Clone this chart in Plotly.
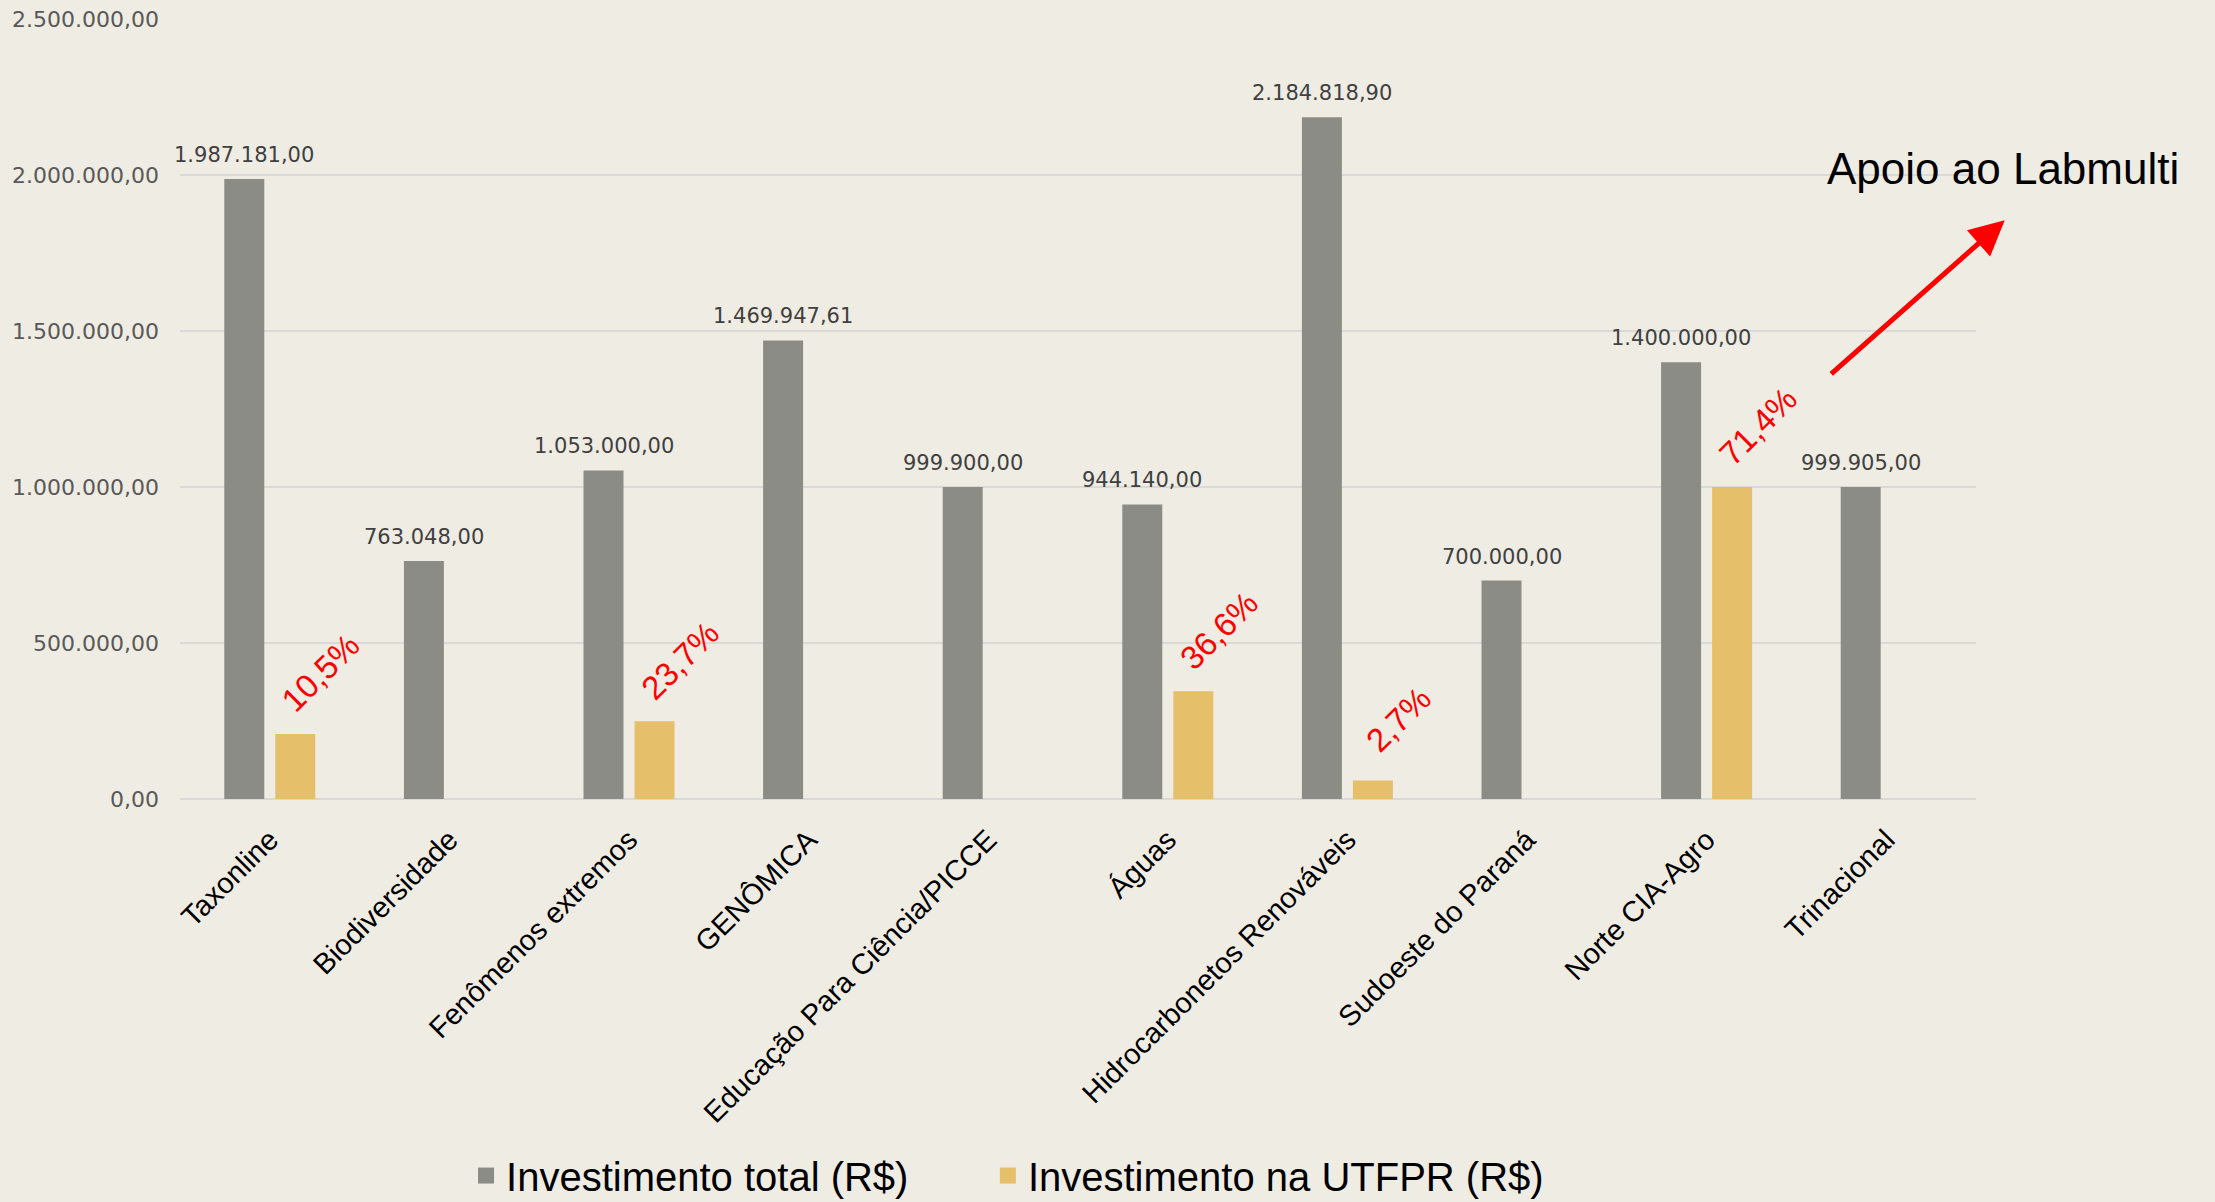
import plotly.graph_objects as go

categories = ["Taxonline", "Biodiversidade", "Fenômenos extremos", "GENÔMICA",
              "Educação Para Ciência/PICCE", "Águas", "Hidrocarbonetos Renováveis",
              "Sudoeste do Paraná", "Norte CIA-Agro", "Trinacional"]
total = [1987181.00, 763048.00, 1053000.00, 1469947.61, 999900.00,
         944140.00, 2184818.90, 700000.00, 1400000.00, 999905.00]
utfpr = [208654, None, 249561, None, None, 345555, 58990, None, 1000000, None]
y_ticks = [0, 500000, 1000000, 1500000, 2000000, 2500000]
series_names = ["Investimento total (R$)", "Investimento na UTFPR (R$)"]

BG = "#EFECE4"
GRAY = "#8B8C86"
GOLD = "#E5BF6A"

fig = go.Figure()
fig.add_trace(go.Bar(x=categories, y=total, name=series_names[0], showlegend=False,
                     marker=dict(color=GRAY, line=dict(width=0))))
fig.add_trace(go.Bar(x=categories, y=utfpr, name=series_names[1], showlegend=False,
                     marker=dict(color=GOLD, line=dict(width=0))))
# legend entries (square swatches)
fig.add_trace(go.Scatter(x=[None], y=[None], mode="markers", name=series_names[0],
                         marker=dict(symbol="square", size=16, color=GRAY),
                         legend="legend"))
fig.add_trace(go.Scatter(x=[None], y=[None], mode="markers", name=series_names[1],
                         marker=dict(symbol="square", size=16, color=GOLD),
                         legend="legend2"))

def br(v):
    s = f"{v:,.2f}"
    return s.replace(",", "X").replace(".", ",").replace("X", ".")

annotations = []
for c, v in zip(categories, total):
    annotations.append(dict(x=c, y=v, xref="x", yref="y", text=br(v), showarrow=False,
                            xshift=-25.5, yshift=10, yanchor="bottom",
                            font=dict(family="DejaVu Sans", size=21, color="#404040")))
for c, t, u in zip(categories, total, utfpr):
    if u is None:
        continue
    pct = f"{100 * u / t:.1f}%".replace(".", ",")
    annotations.append(dict(x=c, y=u, xref="x", yref="y", text=pct, showarrow=False,
                            xshift=51, yshift=61, textangle=-45,
                            xanchor="center", yanchor="middle",
                            font=dict(family="Liberation Sans", size=33, color="#FF0000")))

annotations.append(dict(x=1.015, y=0.808, xref="paper", yref="paper",
                        text="Apoio ao Labmulti", showarrow=False,
                        xanchor="center", yanchor="middle",
                        font=dict(family="Liberation Sans", size=44, color="#000000")))
annotations.append(dict(x=1.016, y=0.742, xref="paper", yref="paper", text="",
                        showarrow=True, ax=-175, ay=155, arrowhead=2, arrowsize=1.4,
                        arrowwidth=5, arrowcolor="#FF0000"))

legend_common = dict(orientation="h", xref="container", yref="container",
                     y=0.022, xanchor="left", yanchor="middle",
                     font=dict(family="Liberation Sans", size=40, color="#000000"),
                     bgcolor="rgba(0,0,0,0)")

fig.update_layout(
    width=2215, height=1202,
    paper_bgcolor=BG, plot_bgcolor=BG,
    margin=dict(l=180, r=239, t=19, b=403, autoexpand=False),
    barmode="group", bargap=0.432, bargroupgap=0.216,
    separators=",.",
    showlegend=True,
    legend=dict(x=0.2104, **legend_common),
    legend2=dict(x=0.446, **legend_common),
    annotations=annotations,
)
fig.update_yaxes(range=[0, 2500000], tickvals=y_ticks, tickformat=",.2f",
                 automargin=False,
                 showgrid=True, gridcolor="#D9D9D9", gridwidth=1.5,
                 zeroline=True, zerolinecolor="#D9D9D9", zerolinewidth=1.5,
                 showline=False, ticks="", ticklabelstandoff=20,
                 tickfont=dict(family="DejaVu Sans", size=22, color="#595959"))
fig.update_xaxes(range=[-0.5, len(categories) - 0.5],
                 tickangle=-45, showgrid=False, showline=False, ticks="",
                 automargin=False, ticklabelstandoff=17,
                 tickfont=dict(family="Liberation Sans", size=29, color="#000000"))

fig.write_html("out.html")
